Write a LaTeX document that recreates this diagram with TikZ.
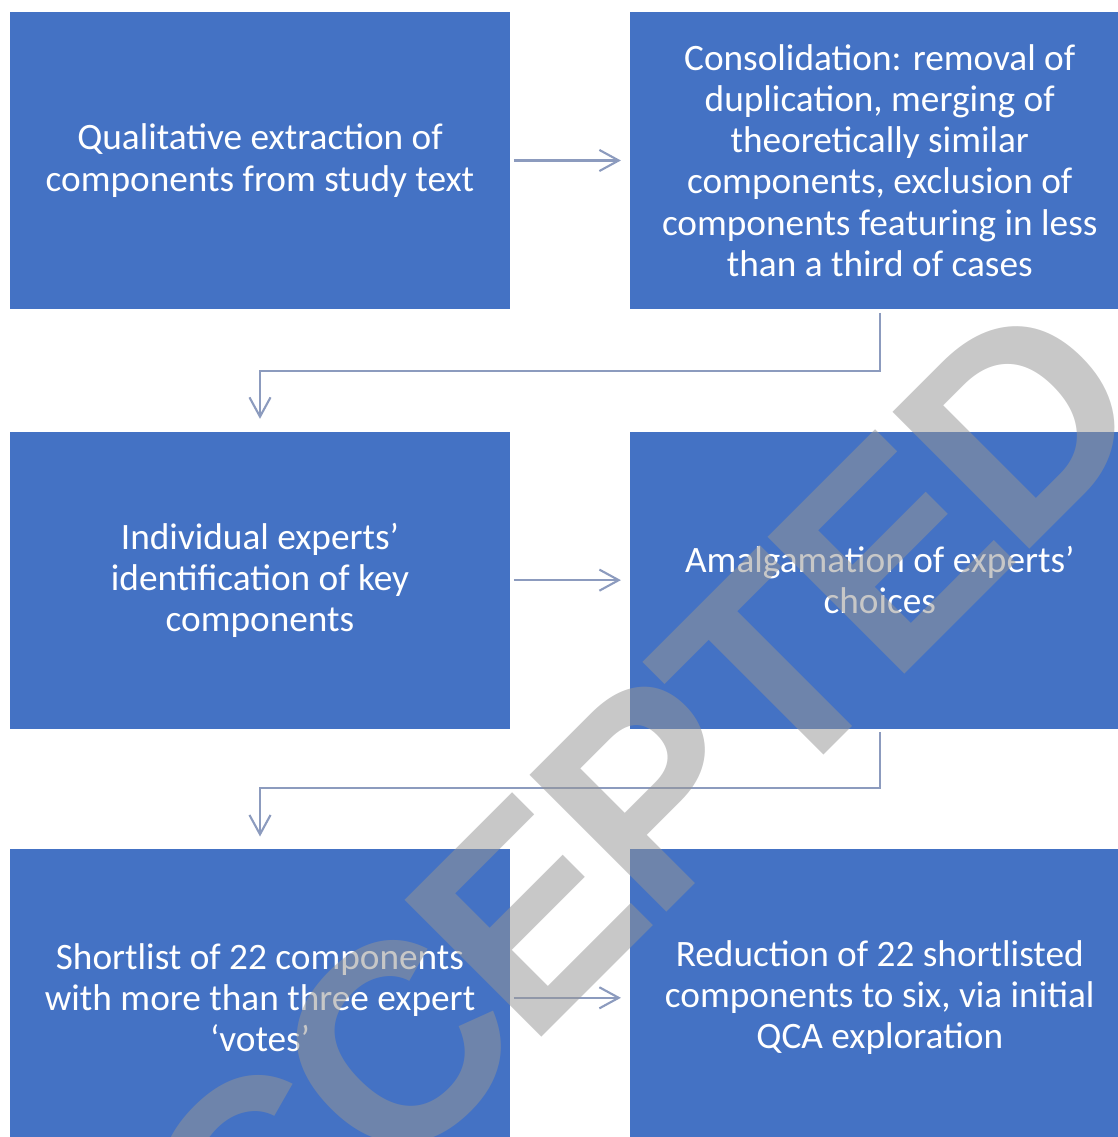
\documentclass[tikz,border=0pt]{standalone}
\usepackage{fontspec}
\setmainfont{Carlito}
\newfontfamily\stampfont{Liberation Sans}[LetterSpace=-4]
\usepackage{tikz}
\usetikzlibrary{arrows.meta,positioning}
\definecolor{boxblue}{RGB}{68,114,196}
\definecolor{linkgrey}{RGB}{140,155,190}
\definecolor{stampgrey}{RGB}{149,149,149}

\begin{document}
\begin{tikzpicture}[x=0.01cm,y=-0.01cm,
		stage/.style={fill=boxblue,text=white,minimum width=5cm,minimum height=2.97cm,inner sep=0pt,align=center,font=\fontsize{10.6}{11.7}\selectfont},
		link/.style={draw=linkgrey,line width=0.6pt,-{Straight Barb[length=5.5pt,width=6pt]}}]
			\useasboundingbox (0,0) rectangle (1117,1137);
			% stages, row by row
			\node[stage] (qual) at (260,160.5) {Qualitative extraction of\\components from study text};
			\node[stage,right=1.18cm of qual] (cons) {Consolidation: removal of\\duplication, merging of\\theoretically similar\\components, exclusion of\\components featuring in less\\than a third of cases};
			\node[stage,below=1.21cm of qual] (indiv) {Individual experts’\\identification of key\\components};
			\node[stage,right=1.18cm of indiv] (amalg) {Amalgamation of experts’\\choices};
			\node[stage,below=1.19cm of indiv] (short) {Shortlist of 22 components\\with more than three expert\\‘votes’};
			\node[stage,right=1.18cm of short] (reduc) {Reduction of 22 shortlisted\\components to six, via initial\\QCA exploration};
			% connectors
			\draw[link,shorten <=0.03cm,shorten >=0.08cm] (qual) -- (cons);
			\draw[link,shorten <=0.03cm,shorten >=0.12cm] (cons.south) -- ++(0,61) -| (indiv.north);
			\draw[link,shorten <=0.03cm,shorten >=0.08cm] (indiv) -- (amalg);
			\draw[link,shorten <=0.03cm,shorten >=0.12cm] (amalg.south) -- ++(0,59) -| (short.north);
			\draw[link,shorten <=0.03cm,shorten >=0.08cm] (short) -- (reduc);
			% watermark
			\node[rotate=45,text=stampgrey,text opacity=0.52,inner sep=0pt,font=\stampfont\bfseries\fontsize{80}{80}\selectfont] (stamp) at (572,870) {ACCEPTED};
		\end{tikzpicture}
\end{document}
